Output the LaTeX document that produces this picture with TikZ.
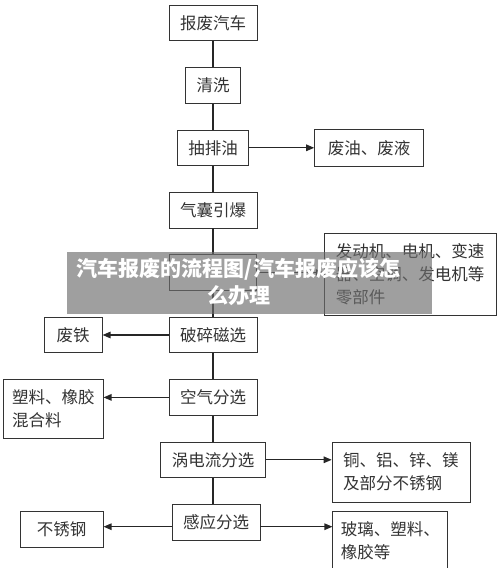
\documentclass[tikz,border=0pt]{standalone}
\usepackage{fontspec}
\setmainfont{Noto Sans CJK SC}
\usepackage{tikz}
\usetikzlibrary{arrows.meta}
\usetikzlibrary{positioning}
\definecolor{ink}{HTML}{333333}
\definecolor{band}{HTML}{6E6E6E}

\begin{document}
\begin{tikzpicture}[x=1pt, y=-1pt, >={Triangle[length=8pt,width=6.5pt]},
	box/.style={draw=ink, line width=0.9pt, text=ink, inner xsep=11pt, minimum height=35.5pt,
		font=\fontsize{16.5pt}{23pt}\selectfont},
	multi/.style={box, align=left, text width=#1},
	link/.style={draw=black!85, line width=1.3pt}]
	\useasboundingbox (0,0) rectangle (500,568);
	\node[box] (scrap) at (213,23) {报废汽车};
	\node[box, below=26pt of scrap] (wash) {清洗};
	\node[box, below=26pt of wash] (oil) {抽排油};
	\node[box, below=26pt of oil] (bag) {气囊引爆};
	\node[box, minimum width=87pt, below=26pt of bag] (dis) {};
	\node[box, below=26pt of dis] (crush) {破碎磁选};
	\node[box, below=26pt of crush] (air) {空气分选};
	\node[box, below=26pt of air] (eddy) {涡电流分选};
	\node[box, below=26pt of eddy, xshift=3pt] (induct) {感应分选};
	\node[box, minimum width=109pt, minimum height=37pt, right=65pt of oil] (oilout) {废油、废液};
	\node[multi=149pt, inner xsep=11.5pt, minimum height=82pt, right=67pt of dis, yshift=-2pt] (parts)
		{发动机、电机、变速\\器、空调、发电机等\\零部件};
	\node[box, minimum width=58pt, left=66pt of crush] (iron) {废铁};
	\node[multi=82pt, inner xsep=9pt, minimum height=59pt, left=65pt of air.north west, anchor=north east] (plastic)
		{塑料、橡胶\\混合料};
	\node[multi=116pt, minimum height=60pt, right=66pt of eddy.north east, anchor=north west] (metals)
		{铜、铝、锌、镁\\及部分不锈钢};
	\node[box, minimum width=83pt, left=68pt of induct, yshift=-7pt] (steel) {不锈钢};
	\node[multi=99pt, inner xsep=8pt, minimum height=59pt, right=72pt of induct.north east, anchor=north west, yshift=-7pt] (glass)
		{玻璃、塑料、\\橡胶等};
	\draw[link] (scrap) -- (wash);
	\draw[link] (wash) -- (oil);
	\draw[link] (oil) -- (bag);
	\draw[link] (bag) -- (dis);
	\draw[link] (dis) -- (crush);
	\draw[link] (crush) -- (air);
	\draw[link] (air) -- (eddy);
	\draw[link] (eddy.south) -- (eddy.south |- induct.north);
	\draw[link, ->] (oil) -- (oilout);
	\draw[link, ->] (dis) -- (dis -| parts.west);
	\draw[link, ->] (crush) -- (crush -| iron.east);
	\draw[link, ->] (air) -- (air -| plastic.east);
	\draw[link, ->] (eddy) -- (eddy -| metals.west);
	\coordinate (ia) at ([yshift=-4.5pt]induct.center);
	\draw[link, ->] (ia -| induct.west) -- (ia -| steel.east);
	\draw[link, ->] (ia -| induct.east) -- (ia -| glass.west);
	\node[fill=band, fill opacity=0.66, minimum width=365pt, minimum height=62pt, inner sep=0pt] (banner) at (249.5,283) {};
	\node[text=white, align=center, font=\bfseries\fontsize{21pt}{27pt}\selectfont] (title) at (238.5,281.5)
		{汽车报废的流程图/汽车报废应该怎\\么办理};
\end{tikzpicture}
\end{document}
